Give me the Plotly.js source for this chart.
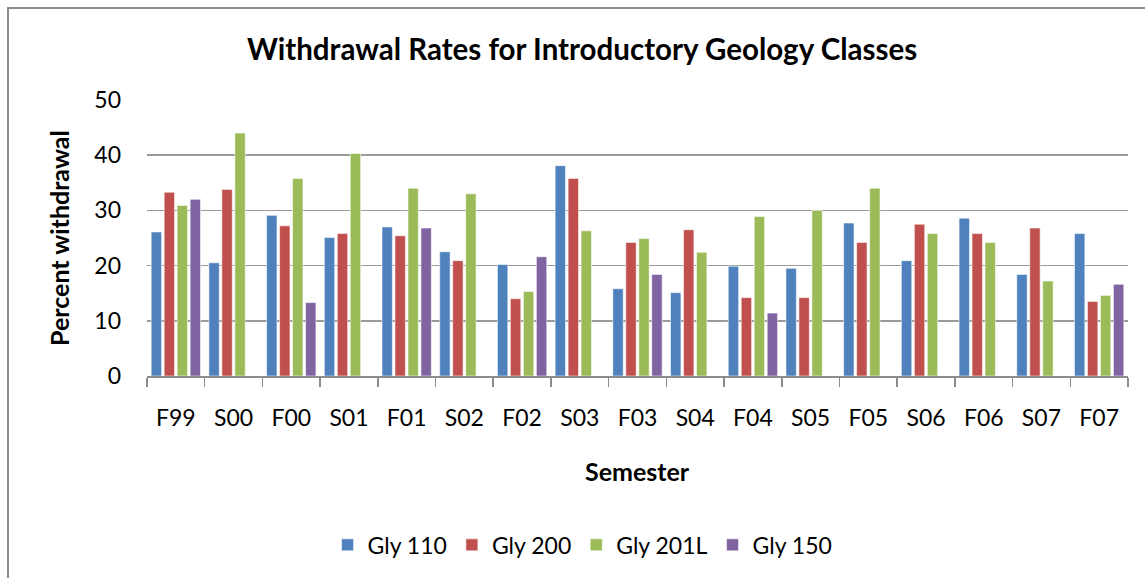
<!DOCTYPE html>
<html>
<head>
<meta charset="utf-8">
<script src="https://cdn.plot.ly/plotly-3.0.1.min.js"></script>
<style>
  html, body { margin: 0; padding: 0; background: #fff; }
  #wrap { position: relative; width: 1145px; height: 578px; overflow: hidden; }
  #chart { width: 1145px; height: 578px; }
  #frame { position: absolute; left: 7px; top: 7px; width: 1300px; height: 900px;
           border: 2px solid #8c8c8c; box-sizing: border-box; pointer-events: none; }
</style>
</head>
<body>
<div id="wrap">
  <div id="chart"></div>
  <div id="frame"></div>
</div>
<script>
const semesters = ["F99","S00","F00","S01","F01","S02","F02","S03","F03","S04","F04","S05","F05","S06","F06","S07","F07"];
const gly110  = [26.1, 20.5, 29.1, 25.1, 27.0, 22.5, 20.2, 38.1, 15.8, 15.1, 19.9, 19.5, 27.7, 20.9, 28.6, 18.4, 25.8];
const gly200  = [33.3, 33.8, 27.2, 25.8, 25.4, 20.9, 14.0, 35.8, 24.2, 26.5, 14.2, 14.2, 24.2, 27.5, 25.8, 26.8, 13.5];
const gly201L = [30.9, 44.0, 35.8, 40.3, 34.0, 33.0, 15.3, 26.3, 24.9, 22.4, 28.9, 30.0, 34.0, 25.8, 24.2, 17.2, 14.6];
const gly150  = [32.0, null, 13.3, null, 26.8, null, 21.6, null, 18.4, null, 11.4, null, null, null, null, null, 16.6];
const seriesNames = ["Gly 110", "Gly 200", "Gly 201L", "Gly 150"];
const seriesColors = ["#4F81BD", "#C0504D", "#9BBB59", "#8064A2"];
const yTicks = [0, 10, 20, 30, 40, 50];

const FONT = "Lato, Open Sans, sans-serif";
const allSeries = [gly110, gly200, gly201L, gly150];
const traces = allSeries.map((vals, i) => ({
  type: "bar",
  name: seriesNames[i],
  x: semesters,
  y: vals,
  marker: { color: seriesColors[i], line: { color: "rgba(255,255,255,0.55)", width: 1 } },
  hoverinfo: "x+y+name"
}));

const layout = {
  width: 1145, height: 578,
  margin: { l: 147, r: 17, t: 100, b: 202 },
  paper_bgcolor: "#fff", plot_bgcolor: "#fff",
  font: { family: FONT, color: "#000", size: 23 },
  barmode: "group",
  bargap: 0.1,
  bargroupgap: 0.2,
  showlegend: true,
  legend: {
    orientation: "h", x: 0.444, xanchor: "center", y: -0.612, yanchor: "middle",
    font: { family: FONT, size: 23, color: "#000" },
    itemwidth: 30, traceorder: "normal"
  },
  title: {
    text: "<b>Withdrawal Rates for Introductory Geology Classes</b>",
    font: { family: FONT, size: 29.5, color: "#000" },
    x: 582 / 1145, xanchor: "center", y: 1 - 50 / 578, yanchor: "middle"
  },
  xaxis: {
    type: "category",
    tickson: "boundaries",
    ticks: "outside", ticklen: 9, tickcolor: "#8c8c8c", tickwidth: 1.5,
    showline: true, linecolor: "#8c8c8c", linewidth: 1.5,
    showgrid: false,
    tickfont: { family: FONT, size: 23, color: "#000" },
    ticklabelstandoff: 21,
    fixedrange: true
  },
  yaxis: {
    range: [0, 50],
    tickvals: yTicks,
    ticktext: yTicks.map(String),
    showgrid: true, gridcolor: "#9a9a9a", gridwidth: 1.5,
    zeroline: false, showline: false,
    ticks: "",
    tickfont: { family: FONT, size: 23, color: "#000" },
    ticklabelstandoff: 25,
    fixedrange: true
  },
  annotations: [{
    text: "<b>Semester</b>", xref: "paper", yref: "paper",
    x: 0.5, y: (376 - 471) / 276, xanchor: "center", yanchor: "middle",
    showarrow: false, font: { family: FONT, size: 25, color: "#000" }
  }, {
    text: "<b>Percent withdrawal</b>", xref: "paper", yref: "paper", textangle: -90,
    x: (59 - 147) / 981, y: 0.5, xanchor: "center", yanchor: "middle",
    showarrow: false, font: { family: FONT, size: 25, color: "#000" }
  }]
};

Plotly.newPlot("chart", traces, layout, { displayModeBar: false, staticPlot: true });
</script>
</body>
</html>
